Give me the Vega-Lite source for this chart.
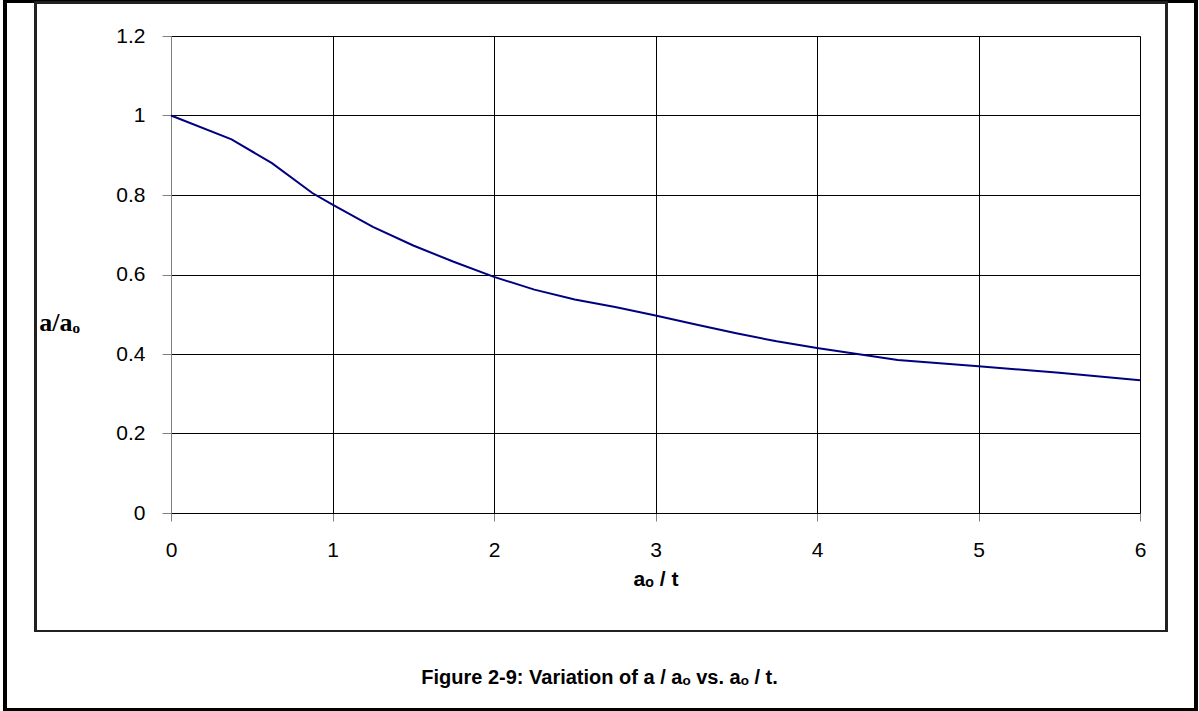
{
  "$schema": "https://vega.github.io/schema/vega-lite/v6.json",
  "autosize": {"type": "none"},
  "width": 969,
  "height": 477,
  "padding": {"left": 171, "top": 36, "right": 59, "bottom": 198},
  "background": "white",
  "config": {
    "view": {"stroke": null},
    "font": "Liberation Sans"
  },
  "title": {
    "text": "Figure 2-9: Variation of  a / aₒ vs. aₒ / t.",
    "orient": "bottom",
    "anchor": "middle",
    "frame": "group",
    "baseline": "top",
    "dx": -56,
    "offset": -43,
    "font": "Liberation Sans",
    "fontSize": 20,
    "fontWeight": "bold",
    "color": "black"
  },
  "data": {
    "values": [
      {"ratio": 0, "a": 1.0},
      {"ratio": 0.375, "a": 0.94},
      {"ratio": 0.625, "a": 0.88},
      {"ratio": 0.875, "a": 0.805},
      {"ratio": 1, "a": 0.776},
      {"ratio": 1.25, "a": 0.72},
      {"ratio": 1.5, "a": 0.673},
      {"ratio": 1.75, "a": 0.632},
      {"ratio": 2, "a": 0.594},
      {"ratio": 2.25, "a": 0.562},
      {"ratio": 2.5, "a": 0.537},
      {"ratio": 2.75, "a": 0.518},
      {"ratio": 3, "a": 0.497},
      {"ratio": 3.25, "a": 0.474},
      {"ratio": 3.5, "a": 0.452},
      {"ratio": 3.75, "a": 0.432},
      {"ratio": 4, "a": 0.415},
      {"ratio": 4.25, "a": 0.4},
      {"ratio": 4.5, "a": 0.385},
      {"ratio": 5, "a": 0.369},
      {"ratio": 5.5, "a": 0.353},
      {"ratio": 6, "a": 0.334}
    ]
  },
  "layer": [
    {
      "mark": {"type": "rect", "fill": null, "stroke": "black", "strokeWidth": 3, "clip": false},
      "encoding": {
        "x": {"datum": -1.028, "type": "quantitative", "scale": {"domain": [0, 6], "nice": false, "zero": false}},
        "x2": {"datum": 6.347},
        "y": {"datum": 1.2868, "type": "quantitative", "scale": {"domain": [0, 1.2], "nice": false, "zero": false}},
        "y2": {"datum": -0.4943}
      }
    },
    {
      "mark": {"type": "rect", "fill": null, "stroke": "#222222", "strokeWidth": 1.5, "clip": false},
      "encoding": {
        "x": {"datum": -0.839, "type": "quantitative"},
        "x2": {"datum": 6.164},
        "y": {"datum": 1.2843, "type": "quantitative"},
        "y2": {"datum": -0.2969}
      }
    },
    {
      "mark": {"type": "line", "color": "#000080", "strokeWidth": 2},
      "encoding": {
        "x": {
          "field": "ratio",
          "type": "quantitative",
          "scale": {"domain": [0, 6], "nice": false, "zero": false},
          "axis": {
            "title": "aₒ / t",
            "titleFont": "Liberation Sans",
            "titleFontSize": 21,
            "titleFontWeight": "bold",
            "titleColor": "black",
            "titlePadding": 8,
            "values": [0, 1, 2, 3, 4, 5, 6],
            "format": "d",
            "labelFont": "Liberation Sans",
            "labelFontSize": 21,
            "labelColor": "black",
            "labelPadding": 18,
            "labelFlush": false,
            "tickSize": 8,
            "tickColor": "#808080",
            "domainColor": "black",
            "grid": true,
            "gridColor": "black",
            "gridWidth": 1
          }
        },
        "y": {
          "field": "a",
          "type": "quantitative",
          "scale": {"domain": [0, 1.2], "nice": false, "zero": false},
          "axis": {
            "title": "a/aₒ",
            "titleFont": "Liberation Serif",
            "titleFontSize": 26,
            "titleFontWeight": "bold",
            "titleColor": "black",
            "titleAngle": 0,
            "titleAlign": "center",
            "titleBaseline": "middle",
            "titleX": -112,
            "titleY": 286,
            "values": [0, 0.2, 0.4, 0.6, 0.8, 1, 1.2],
            "format": ".1~f",
            "labelFont": "Liberation Sans",
            "labelFontSize": 21,
            "labelColor": "black",
            "labelPadding": 17,
            "labelFlush": false,
            "tickSize": 9,
            "tickColor": "#808080",
            "domainColor": "#808080",
            "grid": true,
            "gridColor": "black",
            "gridWidth": 1
          }
        }
      }
    }
  ]
}
